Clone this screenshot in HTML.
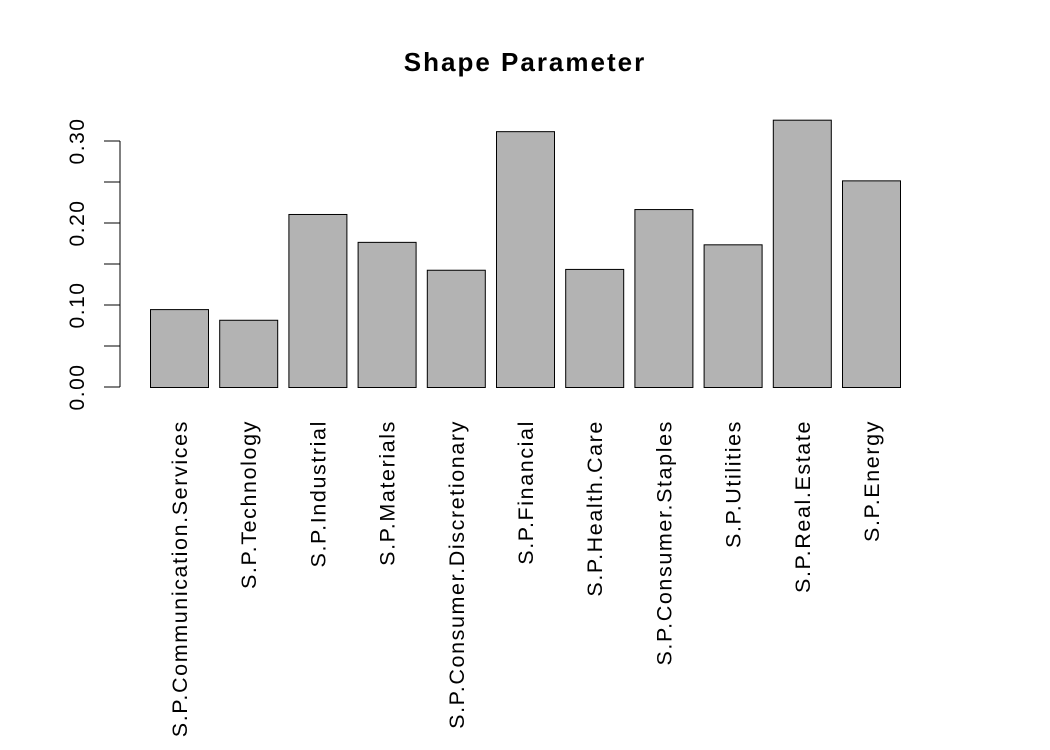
<!DOCTYPE html>
<html><head><meta charset="utf-8"><style>
body{margin:0;background:#fff;}
svg{display:block;font-family:"Liberation Sans",Arial,sans-serif;}
</style></head><body>
<svg id="chart" width="1050" height="750" viewBox="0 0 1050 750">
<rect width="1050" height="750" fill="#fff"/>
<text x="525" y="71" text-anchor="middle" font-size="26" font-weight="bold" letter-spacing="2">Shape Parameter</text>
<g id="axis"></g><g id="bars"></g><g id="labels"></g>
</svg>
<script>
const categories=["S.P.Communication.Services","S.P.Technology","S.P.Industrial","S.P.Materials","S.P.Consumer.Discretionary","S.P.Financial","S.P.Health.Care","S.P.Consumer.Staples","S.P.Utilities","S.P.Real.Estate","S.P.Energy"];
const values=[0.095,0.082,0.211,0.177,0.143,0.312,0.144,0.217,0.174,0.326,0.252];
const ticks=[0,0.05,0.10,0.15,0.20,0.25,0.30];
const tickLabels=["0.00","","0.10","","0.20","","0.30"];
const NS="http://www.w3.org/2000/svg";
function y(v){return 387-v*820;}
function xLeft(i){return 150+i*69.2;}
const bw=58;
function mk(t,a,p){const e=document.createElementNS(NS,t);for(const k in a)e.setAttribute(k,a[k]);p.appendChild(e);return e;}
const ax=document.getElementById('axis');
const al=mk('line',{x1:120,x2:120,y1:y(ticks[0]),y2:y(ticks[ticks.length-1]),stroke:'#000','stroke-width':1},ax);


ticks.forEach((t,i)=>{
 const l=mk('line',{x1:104,x2:120,y1:y(t),y2:y(t),stroke:'#000'},ax);
 
 
 if(tickLabels[i]){
  const tx=mk('text',{x:0,y:0,'font-size':21,'letter-spacing':1.5,'text-anchor':'middle',transform:`translate(84,${y(t)}) rotate(-90)`},ax);
  tx.textContent=tickLabels[i];
  
  
 }
});
const bg=document.getElementById('bars'),lg=document.getElementById('labels');
values.forEach((v,i)=>{
 const r=mk('rect',{x:xLeft(i)+0.5,y:y(v)+0.5,width:bw,height:y(0)-y(v),fill:'#b3b3b3',stroke:'#000','stroke-width':1},bg);
 
 
 const cx=xLeft(i)+bw/2;
 const t=mk('text',{x:0,y:0,'font-size':21.5,'letter-spacing':1.6,'text-anchor':'end',transform:`translate(${cx+8},420) rotate(-90)`},lg);
 t.textContent=categories[i];
 
 
});
</script>
</body></html>
